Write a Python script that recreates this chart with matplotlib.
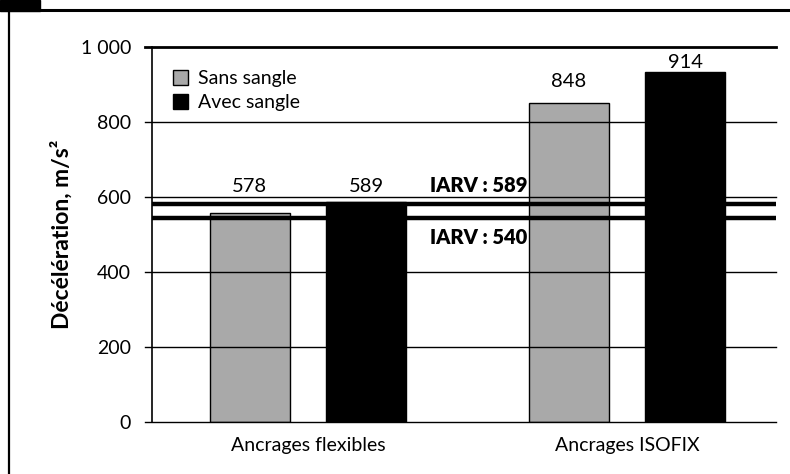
import matplotlib
matplotlib.use("Agg")
import matplotlib.pyplot as plt
from matplotlib.lines import Line2D
from matplotlib.patches import Rectangle, Patch

plt.rcParams['font.family'] = ['Lato', 'DejaVu Sans']

categories = ["Ancrages flexibles", "Ancrages ISOFIX"]
series_names = ["Sans sangle", "Avec sangle"]
sans_sangle = [557, 852]
avec_sangle = [587, 934]
sans_labels = ["578", "848"]
avec_labels = ["589", "914"]
iarv_values = [582, 543]
iarv_labels = ["IARV : 589", "IARV : 540"]
yticks = [0, 200, 400, 600, 800, 1000]
ytick_labels = ["0", "200", "400", "600", "800", "1 000"]

fig = plt.figure(figsize=(7.9, 4.74), dpi=100)
ax = fig.add_axes([152/790, 1-422/474, (776-152)/790, (422-47)/474])

x = list(range(len(categories)))
off = 0.182
w = 0.251
gray = "#a9a9a9"

ax.set_ylim(0, 1000)
ax.set_xlim(-0.489, 1.467)

for yv in yticks:
    ax.axhline(yv, color="black", lw=2.0 if yv == 1000 else 1.0, zorder=4, xmin=-0.012, clip_on=False)

ax.bar([i - off for i in x], sans_sangle, width=w, color=gray, edgecolor="black", linewidth=1.0, zorder=3)
ax.bar([i + off for i in x], avec_sangle, width=w, color="black", edgecolor="black", linewidth=1.0, zorder=5)

for yv in iarv_values:
    ax.axhline(yv, color="black", lw=3.2, zorder=4)

sans_off = [70, 55]
avec_off = [40, 26]
for i in x:
    ax.text(i - off, sans_sangle[i] + sans_off[i], sans_labels[i], ha="center", va="center", fontsize=14.5)
    ax.text(i + off, avec_sangle[i] + avec_off[i], avec_labels[i], ha="center", va="center", fontsize=14.5)

# IARV labels
iarv_x = 0.687
ax.text(iarv_x, iarv_values[0] + 50, iarv_labels[0], ha="right", va="center", fontsize=14.5, fontweight="heavy", zorder=6)
ax.text(iarv_x, iarv_values[1] - 50, iarv_labels[1], ha="right", va="center", fontsize=14.5, fontweight="heavy", zorder=6)

ax.set_yticks(yticks)
ax.set_yticklabels(ytick_labels, fontsize=14)
ax.set_xticks(x)
ax.set_xticklabels(categories, fontsize=14)
ax.tick_params(axis="x", length=0, pad=11)
ax.tick_params(axis="y", length=0, pad=15)
for s in ["top", "right", "bottom"]:
    ax.spines[s].set_visible(False)
ax.spines["left"].set_linewidth(1.2)
ax.set_ylabel("Décélération, m/s²", fontsize=16.5, fontweight="bold", labelpad=6)

handles = [Patch(facecolor=gray, edgecolor="black", label=series_names[0]),
           Patch(facecolor="black", edgecolor="black", label=series_names[1])]
ax.legend(handles=handles, loc="upper left", bbox_to_anchor=(0.005, 0.985), frameon=False,
          fontsize=14, handlelength=0.8, handleheight=0.8, handletextpad=0.5, labelspacing=0.35)

# outer frame
fig.add_artist(Line2D([0, 1], [1-10/474, 1-10/474], transform=fig.transFigure, color="black", lw=2.2))
fig.add_artist(Line2D([9/790, 9/790], [0, 1-10/474], transform=fig.transFigure, color="black", lw=1.6))
fig.add_artist(Rectangle((0, 1-11/474), 40/790, 11/474, transform=fig.transFigure, color="black"))

fig.savefig("out.png", dpi=100, facecolor="white")
